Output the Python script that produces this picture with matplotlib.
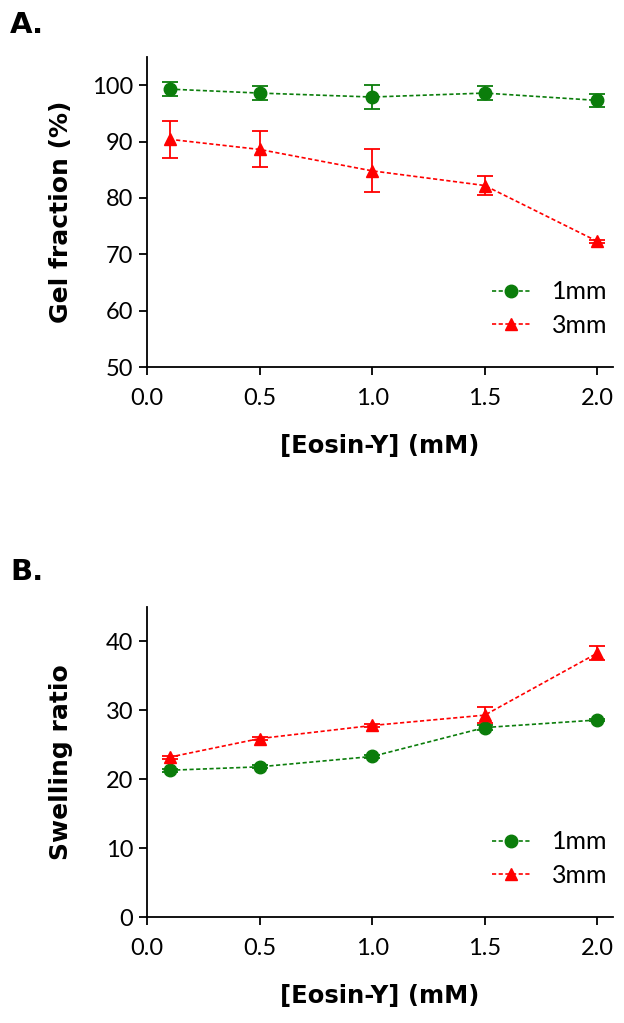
import matplotlib
matplotlib.use("Agg")
import matplotlib.pyplot as plt

plt.rcParams['font.family'] = ['Lato', 'DejaVu Sans']

conc = [0.1, 0.5, 1.0, 1.5, 2.0]

# panel A - gel fraction (%)
gel_1mm = [99.3, 98.6, 97.9, 98.6, 97.3]
gel_1mm_err = [1.2, 1.2, 2.1, 1.3, 1.1]
gel_3mm = [90.4, 88.6, 84.8, 82.2, 72.3]
gel_3mm_err = [3.3, 3.2, 3.8, 1.6, 0.3]

# panel B - swelling ratio
sw_1mm = [21.3, 21.8, 23.3, 27.5, 28.6]
sw_1mm_err = [0.2, 0.2, 0.2, 0.3, 0.2]
sw_3mm = [23.2, 25.9, 27.8, 29.3, 38.3]
sw_3mm_err = [0.2, 0.2, 0.2, 1.2, 1.0]

GREEN = '#0b7d0b'
RED = '#ff0000'
LABEL_FONT = ['DejaVu Sans']

fig = plt.figure(figsize=(6.24, 10.23), dpi=100)
W, H = 624, 1023
AX_L, AX_R = 147, 613


def make_ax(top, bottom):
    return fig.add_axes([AX_L / W, 1 - bottom / H, (AX_R - AX_L) / W, (bottom - top) / H])


def style(ax, ylim, yticks, ylabel):
    ax.set_xlim(0, 2.07)
    ax.set_ylim(*ylim)
    ax.set_xticks([0.0, 0.5, 1.0, 1.5, 2.0])
    ax.set_xticklabels(['0.0', '0.5', '1.0', '1.5', '2.0'])
    ax.set_yticks(yticks)
    for s in ['top', 'right']:
        ax.spines[s].set_visible(False)
    for s in ['left', 'bottom']:
        ax.spines[s].set_linewidth(1.3)
    ax.tick_params(direction='out', length=6, width=1.3, labelsize=17)
    ax.tick_params(axis='x', pad=9)
    ax.tick_params(axis='y', pad=4)
    ax.set_xlabel('[Eosin-Y] (mM)', fontsize=17.5, fontweight='bold',
                  family=LABEL_FONT, labelpad=18)
    ax.set_ylabel(ylabel, fontsize=18, fontweight='bold', family=LABEL_FONT)
    ax.yaxis.set_label_coords(-(AX_L - 73) / (AX_R - AX_L), 0.5)


def draw(ax, y1, e1, y3, e3):
    dash = (0, (2.5, 1.5))
    eb1 = ax.errorbar(conc, y1, yerr=e1, color=GREEN, marker='o', markersize=9,
                      linestyle=dash, linewidth=1.2, capsize=6, elinewidth=1.3,
                      capthick=1.3)
    eb3 = ax.errorbar(conc, y3, yerr=e3, color=RED, marker='^', markersize=9,
                      linestyle=dash, linewidth=1.2, capsize=6, elinewidth=1.3,
                      capthick=1.3)
    ax.legend([eb1[0], eb3[0]], ['1mm', '3mm'], loc='lower right',
              frameon=False, fontsize=18, handlelength=1.5,
              handletextpad=0.9, borderaxespad=0.0, labelspacing=0.42,
              bbox_to_anchor=(1.01, 0.065))


axA = make_ax(57, 367)
draw(axA, gel_1mm, gel_1mm_err, gel_3mm, gel_3mm_err)
style(axA, (50, 105), [50, 60, 70, 80, 90, 100], 'Gel fraction (%)')

axB = make_ax(607, 917)
draw(axB, sw_1mm, sw_1mm_err, sw_3mm, sw_3mm_err)
style(axB, (0, 45), [0, 10, 20, 30, 40], 'Swelling ratio')

fig.text(10 / W, 1 - 25 / H, 'A.', fontsize=21, fontweight='bold',
         family=LABEL_FONT, va='center')
fig.text(10 / W, 1 - 572 / H, 'B.', fontsize=21, fontweight='bold',
         family=LABEL_FONT, va='center')

fig.savefig('out.png', dpi=100)
